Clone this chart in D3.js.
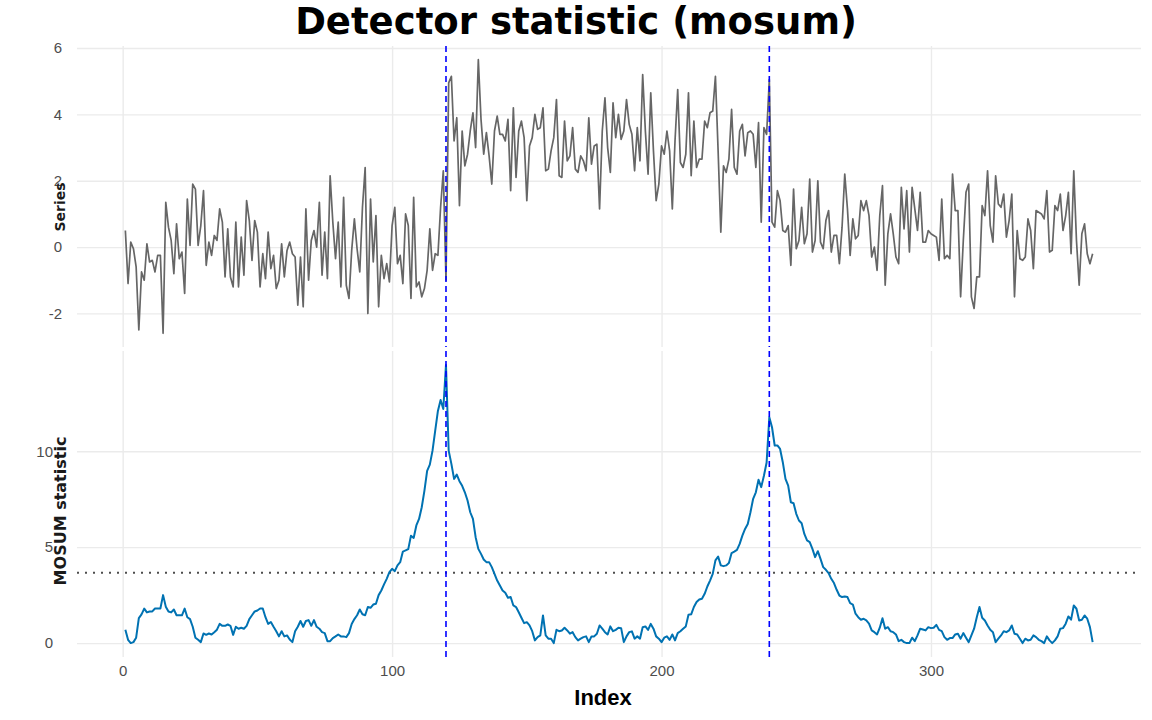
<!DOCTYPE html>
<html>
<head>
<meta charset="utf-8">
<script src="https://cdn.jsdelivr.net/npm/d3@7"></script>
<style>
  html, body { margin: 0; padding: 0; background: #fff; }
</style>
</head>
<body>
<div id="chart"></div>
<script>
var seriesValues = [
  0.5, -1.1, 0.15, -0.05, -0.6, -2.5, -0.75, -1.0, 0.1, -0.45,
  -0.4, -0.75, -0.25, -0.25, -2.6, 1.35, 0.6, 0.2, -0.8, 0.7,
  -0.35, -0.15, -1.4, 1.45, 0.05, 1.9, 1.75, 0.05, 0.65, 1.7,
  -0.55, 0.15, -0.25, 0.35, 0.2, 1.15, 0.75, -0.9, 0.55, -0.9,
  -1.2, 0.75, -1.2, 0.3, -0.85, 1.4, 0.8, -0.4, 0.8, 0.45,
  -1.2, -0.2, -0.95, 0.45, -0.65, -0.25, -1.25, -1.0, 0.1, -0.9,
  -0.1, 0.15, -0.2, -0.3, -1.75, -0.3, -1.8, 1.15, -1.0, 0.2,
  0.5, 0.0, 1.35, -0.85, 0.45, -0.95, 2.15, 0.75, -0.35, 0.75,
  -1.2, 1.5, -1.15, -1.55, -0.1, 0.85, -0.05, -0.75, 1.2, 2.4,
  -2.0, 1.45, -0.45, 0.95, -1.8, -0.25, -0.95, -0.5, -1.05, 0.65,
  1.2, -0.5, -0.25, -1.1, 1.0, 0.65, -1.55, 1.5, -1.2, -1.05,
  -1.5, -1.25, -0.7, 0.55, -0.7, -0.2, -0.25, 1.2, 2.3, -1.0,
  4.95, 5.15, 3.2, 3.9, 1.25, 3.5, 2.45, 2.8, 3.5, 4.05,
  3.0, 5.65, 3.85, 2.8, 3.45, 2.75, 1.9, 3.5, 3.95, 3.4,
  3.4, 3.2, 3.85, 1.7, 4.2, 2.1, 3.5, 3.8, 3.3, 1.4,
  3.05, 3.3, 4.0, 3.55, 3.6, 4.2, 2.3, 2.35, 2.9, 3.3,
  4.45, 2.15, 2.1, 3.8, 2.6, 2.75, 3.6, 2.35, 2.25, 2.75,
  2.6, 2.3, 3.9, 2.5, 3.05, 3.1, 1.15, 3.5, 4.5, 3.0,
  2.25, 4.35, 3.3, 4.0, 3.25, 3.5, 4.45, 3.7, 3.4, 2.3,
  3.6, 2.6, 5.2, 3.5, 2.2, 4.65, 2.9, 1.4, 1.9, 3.05,
  2.8, 3.5, 2.9, 1.15, 3.2, 4.75, 2.55, 2.4, 2.8, 4.65,
  2.15, 3.8, 2.4, 2.65, 2.65, 3.8, 3.6, 4.05, 4.1, 5.15,
  2.9, 0.45, 2.45, 2.25, 2.65, 4.15, 2.4, 2.2, 3.5, 3.7,
  2.75, 3.45, 3.5, 3.4, 2.4, 3.75, 0.75, 3.6, 3.4, 5.05,
  0.75, 0.6, 1.7, 1.4, 0.5, 0.45, 0.65, -0.55, 1.75, -0.05,
  0.2, 1.2, 0.1, 0.4, 2.05, -0.15, 0.2, 2.0, 0.15, -0.05,
  0.8, 1.1, -0.15, 0.35, 0.35, -0.5, 0.6, 2.2, 1.15, -0.25,
  0.85, 0.25, 0.35, 1.4, 1.1, 1.4, 0.95, -0.3, 0.0, -0.7,
  0.95, 1.85, -1.15, 0.4, 1.0, 0.4, -0.3, -0.5, 1.8, 0.55,
  1.7, -0.15, 1.8, 1.15, 0.5, 1.65, 0.15, 0.15, 0.5, 0.4,
  0.35, 0.3, -0.4, 1.45, -0.35, -0.25, -0.35, 2.2, 1.1, 1.1,
  -1.5, 0.2, 1.65, 1.9, -1.5, -1.85, -0.9, -0.9, 1.25, 0.95,
  2.3, 0.65, 0.15, 2.15, 1.3, 1.2, 1.6, 0.3, 0.8, 1.6,
  -1.5, 0.5, -0.35, -0.4, -0.3, 0.85, 0.5, -0.65, 1.1, 1.05,
  1.0, 0.85, 1.7, -0.15, -0.1, 1.25, 1.1, 1.6, 0.5, 0.95,
  1.65, -0.2, 2.3, 0.2, -1.15, 0.4, 0.7, -0.2, -0.5, -0.2
];

var mosumValues = [
  0.7, 0.17, 0.0, 0.05, 0.28, 1.3, 1.5, 1.8, 1.6, 1.65,
  1.65, 1.8, 1.8, 1.8, 2.5, 1.9, 1.65, 1.6, 1.75, 1.45,
  1.45, 1.45, 1.8, 1.35, 1.25, 0.85, 0.28, 0.17, 0.05, 0.5,
  0.43, 0.5, 0.45, 0.57, 0.7, 1.0, 0.9, 0.9, 0.97, 0.9,
  0.43, 0.85, 0.75, 0.8, 0.75, 0.9, 1.25, 1.45, 1.65, 1.7,
  1.8, 1.8, 1.35, 1.0, 1.1, 0.85, 0.62, 0.35, 0.62, 0.35,
  0.4, 0.19, 0.05, 0.62, 0.85, 1.15, 0.85, 1.15, 1.2, 0.9,
  1.2, 0.85, 0.75, 0.57, 0.52, 0.1, 0.1, 0.26, 0.35, 0.45,
  0.35, 0.35, 0.31, 0.52, 1.0, 1.25, 1.45, 1.75, 1.5, 1.45,
  1.88, 1.84, 2.01, 2.05, 2.5, 2.74, 3.06, 3.35, 3.7, 3.87,
  3.75, 4.05, 4.22, 4.77, 4.83, 4.9, 5.6, 5.48, 6.13, 6.47,
  7.08, 7.95, 8.98, 9.3, 10.03, 11.07, 12.1, 12.67, 12.2, 14.5,
  10.03, 9.34, 8.56, 8.78, 8.44, 8.2, 7.86, 7.43, 6.82, 6.47,
  5.52, 4.91, 4.65, 4.36, 4.22, 4.22, 3.96, 3.61, 3.26, 3.0,
  2.74, 2.62, 2.36, 2.4, 1.96, 1.88, 1.61, 1.32, 1.04, 1.09,
  0.92, 0.62, 0.14, 0.31, 0.4, 1.44, 0.4, 0.23, 0.23, 0.0,
  0.69, 0.62, 0.66, 0.8, 0.66, 0.49, 0.57, 0.31, 0.14, 0.23,
  0.31, 0.35, 0.05, 0.35, 0.35, 0.49, 0.92, 0.75, 0.57, 0.45,
  0.87, 0.62, 0.69, 0.8, 0.78, 0.05, 0.35, 0.57, 0.61, 0.23,
  0.35, 0.23, 0.83, 0.87, 0.69, 1.0, 0.75, 0.35, 0.23, 0.05,
  0.28, 0.35, 0.17, 0.45, 0.14, 0.52, 0.62, 0.75, 0.87, 1.48,
  1.5, 1.88, 2.14, 2.27, 2.31, 2.57, 2.95, 3.26, 3.61, 4.31,
  4.51, 4.05, 4.01, 4.05, 4.17, 4.69, 4.77, 4.86, 5.17, 5.6,
  5.95, 6.21, 6.82, 7.52, 7.86, 8.51, 8.13, 8.72, 9.41, 11.77,
  11.25, 10.3, 10.3, 10.12, 9.43, 8.56, 8.21, 7.34, 7.29, 6.74,
  6.39, 6.25, 5.69, 5.35, 5.26, 4.91, 4.48, 4.79, 4.39, 3.96,
  3.82, 3.65, 3.35, 3.13, 2.78, 2.48, 2.4, 2.43, 2.4, 2.08,
  2.01, 1.53, 1.35, 1.22, 1.27, 1.18, 1.01, 0.66, 0.57, 0.45,
  0.8, 1.3, 0.75, 0.83, 0.62, 0.57, 0.45, 0.1, 0.17, 0.05,
  0.0, 0.0, 0.28, 0.1, 0.4, 0.75, 0.71, 0.66, 0.83, 0.78,
  0.8, 0.95, 0.69, 0.62, 0.31, 0.17, 0.26, 0.26, 0.45, 0.49,
  0.23, 0.52, 0.28, 0.05, 0.4, 0.75, 1.35, 1.88, 1.32, 1.18,
  0.92, 0.69, 0.57, 0.05, 0.23, 0.4, 0.62, 0.57, 0.66, 0.92,
  0.49, 0.45, 0.23, 0.0, 0.23, 0.14, 0.17, 0.4, 0.31, 0.17,
  0.1, 0.0, 0.35, 0.14, 0.0, 0.14, 0.35, 0.75, 0.78, 1.01,
  1.39, 1.22, 1.96, 1.79, 1.18, 1.22, 1.44, 1.27, 0.83, 0.05
];

var changePoints = [120, 240];
var threshold = 3.66;
var xTicks = [0, 100, 200, 300];
var seriesTicks = [-2, 0, 2, 4, 6];
var mosumTicks = [0, 5, 10];
var panelNames = ["Series", "MOSUM statistic"];

var width = 1152, height = 720;
var plotLeft = 77, plotRight = 1141;

// ggplot style 5% expansion of a continuous range
function expand(ext) {
  var pad = (ext[1] - ext[0]) * 0.05;
  return [ext[0] - pad, ext[1] + pad];
}

var svg = d3.select("#chart").append("svg")
  .attr("width", width)
  .attr("height", height)
  .style("display", "block")
  .style("background", "#fff");

var n = seriesValues.length;
var x = d3.scaleLinear()
  .domain(expand([1, n]))
  .range([plotLeft, plotRight]);

var panels = [
  { name: panelNames[0], values: seriesValues, ticks: seriesTicks, color: "#666666", width: 1.7,
    top: 46, bottom: 347, labelPad: 15, labelY: 207, labelSize: 14 },
  { name: panelNames[1], values: mosumValues, ticks: mosumTicks, color: "#0072B2", width: 2,
    top: 351, bottom: 657, labelPad: 24, labelY: 511, labelSize: 16, hline: threshold }
];

function styleGrid(sel) {
  sel.select(".domain").remove();
  sel.selectAll(".tick line").attr("stroke", "#ebebeb").attr("stroke-width", 1.4);
  sel.selectAll(".tick text")
    .attr("fill", "#4d4d4d")
    .style("font-family", "'Liberation Sans', Arial, sans-serif")
    .style("font-size", "15px");
}

function drawPanel(p) {
  var y = d3.scaleLinear()
    .domain(expand(d3.extent(p.values)))
    .range([p.bottom, p.top]);

  var g = svg.append("g").attr("class", "panel");

  // horizontal grid lines and y tick labels
  g.append("g")
    .attr("transform", "translate(" + plotLeft + ",0)")
    .call(d3.axisLeft(y)
      .tickValues(p.ticks)
      .tickSize(-(plotRight - plotLeft))
      .tickPadding(p.labelPad)
      .tickFormat(function (d) { return String(d); }))
    .call(styleGrid)
    .selectAll(".tick text").attr("text-anchor", "end");

  // vertical grid lines
  g.append("g")
    .attr("transform", "translate(0," + p.bottom + ")")
    .call(d3.axisBottom(x)
      .tickValues(xTicks)
      .tickSize(-(p.bottom - p.top))
      .tickFormat(""))
    .call(styleGrid);

  if (p.hline !== undefined) {
    g.append("line")
      .attr("x1", plotLeft).attr("x2", plotRight)
      .attr("y1", y(p.hline)).attr("y2", y(p.hline))
      .attr("stroke", "#4d4d4d")
      .attr("stroke-width", 2)
      .attr("stroke-dasharray", "2,6");
  }

  var line = d3.line()
    .x(function (d, i) { return x(i + 1); })
    .y(function (d) { return y(d); });

  g.append("path")
    .datum(p.values)
    .attr("d", line)
    .attr("fill", "none")
    .attr("stroke", p.color)
    .attr("stroke-width", p.width)
    .attr("stroke-linejoin", "round");

  g.selectAll(".cp")
    .data(changePoints)
    .enter().append("line")
    .attr("class", "cp")
    .attr("x1", function (d) { return x(d); })
    .attr("x2", function (d) { return x(d); })
    .attr("y1", p.top)
    .attr("y2", p.bottom)
    .attr("stroke", "#0000ff")
    .attr("stroke-width", 1.6)
    .attr("stroke-dasharray", "6,4");

  g.append("text")
    .attr("transform", "translate(60," + p.labelY + ") rotate(-90)")
    .attr("text-anchor", "middle")
    .attr("dy", "0.35em")
    .attr("fill", "#1a1a1a")
    .style("font-family", "'DejaVu Sans', sans-serif")
    .style("font-weight", "bold")
    .style("font-size", p.labelSize + "px")
    .text(p.name);

  return y;
}

panels.forEach(drawPanel);

// x tick labels under the lower panel
svg.append("g")
  .attr("transform", "translate(0," + panels[1].bottom + ")")
  .call(d3.axisBottom(x).tickValues(xTicks).tickSize(0).tickPadding(8))
  .call(styleGrid);

svg.append("text")
  .attr("x", 603)
  .attr("y", 705)
  .attr("text-anchor", "middle")
  .attr("fill", "#000")
  .style("font-family", "'Liberation Sans', Arial, sans-serif")
  .style("font-weight", "bold")
  .style("font-size", "22px")
  .text("Index");

svg.append("text")
  .attr("x", 576)
  .attr("y", 34)
  .attr("text-anchor", "middle")
  .attr("fill", "#000")
  .style("font-family", "'DejaVu Sans', sans-serif")
  .style("font-weight", "bold")
  .style("font-size", "37px")
  .text("Detector statistic (mosum)");
</script>
</body>
</html>
